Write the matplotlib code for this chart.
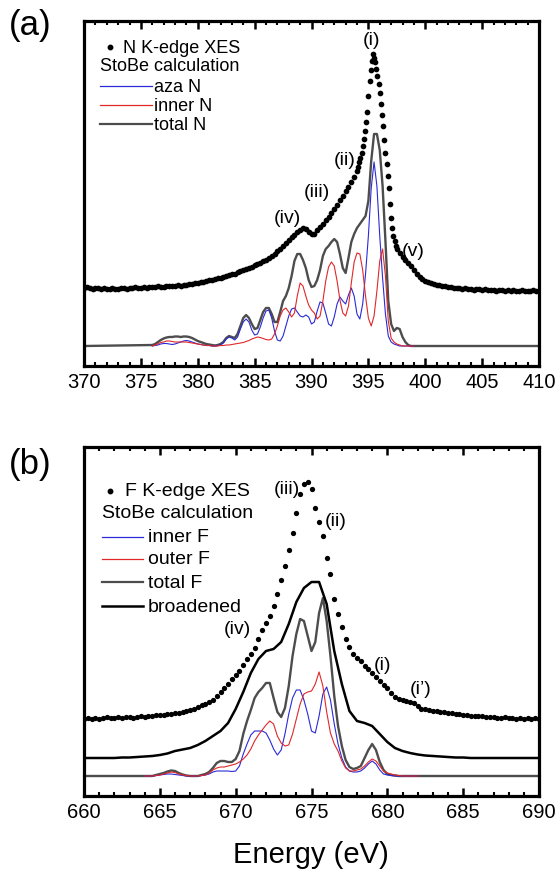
import numpy as np
import matplotlib
matplotlib.use('Agg')
import matplotlib.pyplot as plt
from matplotlib.ticker import MultipleLocator

plt.rcParams['font.family'] = ['Liberation Sans', 'DejaVu Sans']

# ---- panel (a): N K-edge ----
# measured XES (dots)
xes_n_energy = np.concatenate([np.arange(370, 394.01, 0.25),
                               np.arange(394.1, 397.51, 0.1),
                               np.arange(397.75, 410.01, 0.25)])
xes_n = [58, 59, 58, 57, 58, 58, 57, 58, 57, 57, 58, 57, 57, 58, 58, 57,
         58, 58, 59, 58, 58, 59, 58, 59, 59, 59, 60, 59, 59, 60, 60, 60,
         60, 61, 60, 61, 61, 62, 62, 63, 63, 64, 64, 65, 66, 66, 67, 68,
         68, 69, 70, 71, 72, 72, 74, 75, 76, 77, 78, 79, 81, 82, 83, 85,
         86, 88, 90, 92, 95, 97, 100, 103, 106, 109, 111, 114, 116, 118, 117, 114,
         112, 112, 116, 119, 122, 126, 129, 133, 137, 141, 146, 150, 155, 159, 164, 169,
         175,
         179, 184, 188, 193, 200, 207, 215, 224, 234, 250, 265, 276, 285, 292, 288, 284,
         277, 270, 262, 253, 242, 231, 220, 206, 193, 182, 170, 158, 142, 128, 118, 110,
         105, 100, 97,
         93, 89, 86, 83, 80, 76, 72, 69, 67, 65, 64, 63, 62, 61, 61, 60,
         60, 59, 59, 58, 58, 58, 57, 58, 57, 57, 56, 57, 57, 56, 57, 56,
         56, 56, 55, 56, 56, 55, 56, 55, 56, 55, 55, 56, 55, 55, 55, 56,
         55, 55]

# StoBe calculation
calc_n_energy = np.arange(376, 399.01, 0.25)
aza_n = [0, 0.5, 1, 2, 2.5, 2.5, 2, 1.5, 2, 3, 4, 5, 5.5, 5, 4, 3,
         2, 1.5, 1, 0.5, 0.5, 0, 0, 0.5, 1, 3, 7, 9, 8, 6, 9, 17,
         24, 27, 24, 16, 11, 12, 19, 28, 35, 36, 28, 15, 6, 5, 10, 20,
         30, 37, 38, 34, 30, 29, 31, 29, 22, 24, 35, 44, 43, 33, 22, 20,
         29, 42, 49, 45, 42, 51, 58, 50, 32, 27, 42, 72, 110, 158, 184, 160,
         110, 68, 32, 10, 4, 2, 1, 0, 0, 0, 0, 0, 0]
inner_n = [0, 1, 2, 3.5, 4, 5, 5, 4.5, 4, 4, 4, 4, 4, 3.5, 3, 2.5,
           2, 1.5, 1, 0.5, 0.5, 0, 0, 0, 0.5, 0.5, 1, 1, 1.5, 2, 2.5, 3,
           3.5, 4.5, 5.5, 7, 8, 9, 8.5, 7.5, 6.5, 6, 7, 12, 20, 30, 36, 38,
           34, 29, 33, 50, 63, 60, 50, 41, 36, 33, 27, 30, 45, 65, 79, 84,
           80, 65, 46, 33, 30, 40, 63, 84, 93, 92, 76, 50, 28, 20, 30, 55,
           85, 97, 70, 25, 8, 4, 2, 1, 0, 0, 0, 0, 0]
total_n_energy = np.concatenate([[370], calc_n_energy, [410]])
total_n = [0,
           1, 2, 4, 6, 7.5, 8.5, 9, 9, 9.5, 9.5, 9, 9.5, 9.5, 9, 8, 6.5,
           5, 4, 3, 2, 1.5, 1, 0.5, 1, 2, 4, 8, 10, 9, 8, 12, 20,
           28, 31, 28, 22, 17, 18, 26, 34, 38, 38, 32, 24, 24, 34, 45, 50,
           58, 70, 85, 92, 92, 86, 78, 66, 59, 60, 66, 76, 90, 97, 100, 104,
           107, 104, 92, 78, 73, 88, 104, 112, 118, 122, 126, 130, 145, 185, 212, 212,
           196, 160, 105, 45, 22, 15, 18, 17, 9, 4, 1, 0, 0,
           0]

# ---- panel (b): F K-edge ----
xes_f_energy = np.arange(660, 690.01, 0.25)
xes_f = [57, 58, 57, 58, 57, 58, 59, 58, 58, 59, 58, 59, 59, 58, 59, 60,
         59, 60, 60, 61, 61, 61, 62, 62, 63, 63, 64, 65, 66, 67, 69, 71,
         72, 74, 76, 80, 84, 88, 92, 97, 101, 105, 111, 117, 122, 128, 137, 146,
         153, 160, 170, 182, 196, 210, 226, 243, 263, 282, 292, 294, 287, 268, 254, 240,
         218, 202, 177, 162, 149, 137, 129, 122, 118, 115, 110, 107, 103, 99, 95, 91,
         88, 83, 79, 77, 76, 75, 74, 73, 70, 67, 67, 66, 65, 65, 64, 64,
         63, 63, 62, 62, 61, 61, 60, 60, 60, 60, 59, 59, 59, 58, 58, 59,
         58, 58, 57, 58, 57, 58, 57, 58, 57]

calc_f_energy = np.arange(664, 682.01, 0.25)
inner_f = [0, 0, 0, 0.5, 1, 1.5, 2, 2, 1.5, 1, 0.5, 0, 0, 0, 0, 0.5,
           1, 2, 4, 5, 5, 5, 5, 4.5, 5, 10, 22, 32, 41, 45, 45, 45,
           43, 36, 27, 21, 26, 42, 62, 78, 86, 86, 76, 62, 45, 43, 60, 82,
           89, 76, 52, 32, 18, 9, 5, 4, 4, 5, 8, 12, 15, 12, 6, 2,
           1, 0.5, 0, 0, 0, 0, 0, 0, 0]
outer_f = [0, 0, 0, 0.5, 1, 2, 3, 4, 3.5, 2, 1, 0.5, 0, 0, 0, 0.5,
           1, 3, 6, 8, 9, 9, 10, 11, 12, 14, 17, 21, 27, 35, 41, 46,
           51, 55, 52, 40, 33, 30, 31, 42, 57, 72, 82, 84, 85, 92, 104, 90,
           64, 43, 32, 25, 15, 8, 5, 5, 6, 7, 10, 14, 17, 15, 10, 5,
           3, 2, 1, 0.5, 0, 0, 0, 0, 0]
total_f_energy = np.concatenate([[660], calc_f_energy, [690]])
total_f = [0,
           0, 0, 0, 1, 2, 3, 4.5, 5.5, 5, 3, 1.5, 0.5, 0, 0, 0, 1,
           2, 4, 8, 13, 15, 15, 14, 14, 17, 25, 42, 55, 66, 78, 84, 88,
           93, 93, 78, 64, 59, 68, 90, 120, 142, 157, 155, 140, 125, 134, 163, 178,
           155, 120, 80, 50, 30, 16, 9, 7, 8, 10, 18, 26, 32, 26, 14, 6,
           2, 1, 0.5, 0, 0, 0, 0, 0, 0,
           0]
broad_f_energy = np.arange(660, 690.01, 0.5)
broad_f = [18, 18, 18, 18, 18, 18.5, 18.5, 19, 19.5, 20, 21, 22.5, 25, 26.5, 28, 31,
           35, 40, 45, 53, 67, 84, 103, 117, 125, 127, 134, 152, 174, 188, 194, 194,
           172, 125, 92, 65, 55, 53, 50, 42, 34, 28, 25, 23, 21.5, 20.5, 20, 19.5,
           19, 18.5, 18.5, 18, 18, 18, 18, 18, 18, 18, 18, 18, 18]

blue = '#2a2ad8'
red = '#e02828'
grey = '#4d4d4d'

fig = plt.figure(figsize=(5.57, 8.78), dpi=100)
ax1 = fig.add_axes([84 / 557, 1 - 367 / 878, 455 / 557, 345 / 878])
ax2 = fig.add_axes([84 / 557, 1 - 797 / 878, 455 / 557, 349 / 878])

# panel (a)
ax1.plot(total_n_energy, total_n, color=grey, lw=1.7)
ax1.plot(calc_n_energy, aza_n, color=blue, lw=0.8)
ax1.plot(calc_n_energy, inner_n, color=red, lw=0.8)
ax1.plot(xes_n_energy, xes_n, 'o', color='black', ms=4.1, mew=0)
ax1.set_xlim(370, 410)
ax1.set_ylim(-20, 325)

for txt, ex, ey in [('(i)', 395.3, 307), ('(ii)', 392.9, 187), ('(iii)', 390.5, 155),
                    ('(iv)', 387.9, 129), ('(v)', 398.9, 95)]:
    ax1.text(ex, ey, txt, fontsize=14, ha='center', va='center')

# panel (b)
ax2.plot(total_f_energy, total_f, color=grey, lw=1.7)
ax2.plot(calc_f_energy, inner_f, color=blue, lw=0.8)
ax2.plot(calc_f_energy, outer_f, color=red, lw=0.8)
ax2.plot(broad_f_energy, broad_f, color='black', lw=1.8)
ax2.plot(xes_f_energy, xes_f, 'o', color='black', ms=3.8, mew=0)
ax2.set_xlim(660, 690)
ax2.set_ylim(-20, 329)

for txt, ex, ey in [('(iii)', 673.4, 287), ('(ii)', 676.6, 255), ('(iv)', 670.1, 147),
                    ('(i)', 679.7, 112), ("(i’)", 682.2, 87)]:
    ax2.text(ex, ey, txt, fontsize=14, ha='center', va='center')

for ax in (ax1, ax2):
    ax.xaxis.set_major_locator(MultipleLocator(5))
    ax.xaxis.set_minor_locator(MultipleLocator(1))
    ax.tick_params(axis='x', which='both', direction='in', top=True, bottom=True,
                   labelsize=14.5, pad=4)
    ax.tick_params(axis='x', which='major', length=6, width=1.8)
    ax.tick_params(axis='x', which='minor', length=3, width=1.5)
    ax.set_yticks([])
    for s in ax.spines.values():
        s.set_linewidth(2.3)

# hand-drawn legends (axes fraction coordinates)
def legend_block(ax, fs, dot_y, rows, x_line0, x_line1, x_text, x_dot, x_dot_text, first, second_y):
    ax.plot([x_dot], [dot_y], 'o', color='black', ms=3.2, transform=ax.transAxes)
    ax.text(x_dot_text, dot_y, first, fontsize=fs, va='center', ha='left', transform=ax.transAxes)
    ax.text(x_line0, second_y, 'StoBe calculation', fontsize=fs, va='center', ha='left',
            transform=ax.transAxes)
    for label, yy, col, lw in rows:
        ax.plot([x_line0, x_line1], [yy, yy], color=col, lw=lw, transform=ax.transAxes)
        ax.text(x_text, yy, label, fontsize=fs, va='center', ha='left', transform=ax.transAxes)

def fy1(py):
    return (367 - py) / 345

def fy2(py):
    return (797 - py) / 349

def fx(px):
    return (px - 84) / 455

legend_block(ax1, 13, fy1(48),
             [('aza N', fy1(87), blue, 0.9), ('inner N', fy1(106), red, 0.9),
              ('total N', fy1(125), grey, 1.6)],
             fx(100), fx(152), fx(154), fx(110), fx(123), 'N K-edge XES', fy1(66))

legend_block(ax2, 14, fy2(492),
             [('inner F', fy2(538), blue, 0.9), ('outer F', fy2(560), red, 0.9),
              ('total F', fy2(583), grey, 1.6), ('broadened', fy2(607), 'black', 1.8)],
             fx(102), fx(143), fx(148), fx(110), fx(125), 'F K-edge XES', fy2(514))

fig.text(30 / 557, 1 - 25 / 878, '(a)', fontsize=25, ha='center', va='center')
fig.text(30 / 557, 1 - 465 / 878, '(b)', fontsize=25, ha='center', va='center')
fig.text(311 / 557, 1 - 855 / 878, 'Energy (eV)', fontsize=21, ha='center', va='center')

fig.savefig('out.png', dpi=100)
